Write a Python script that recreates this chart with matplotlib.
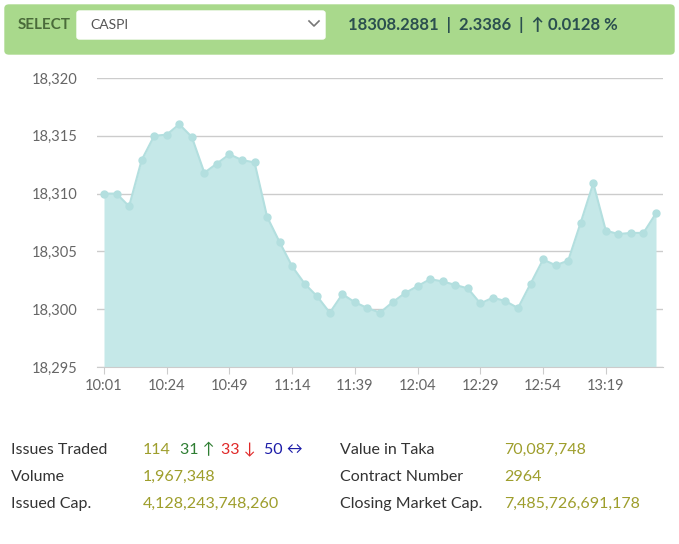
import matplotlib
matplotlib.use("Agg")
import matplotlib.pyplot as plt
from matplotlib.patches import FancyBboxPatch
from matplotlib.lines import Line2D

# index values, one point every few minutes
values = [
    18310.0, 18310.0, 18308.9, 18312.9, 18315.0, 18315.1, 18316.0, 18314.9,
    18311.8, 18312.6, 18313.4, 18312.9, 18312.7, 18308.0, 18305.8, 18303.7,
    18302.2, 18301.1, 18299.7, 18301.3, 18300.6, 18300.1, 18299.7, 18300.6,
    18301.4, 18302.0, 18302.6, 18302.4, 18302.1, 18301.8, 18300.5, 18301.0,
    18300.7, 18300.1, 18302.2, 18304.3, 18303.8, 18304.2, 18307.5, 18310.9,
    18306.8, 18306.5, 18306.6, 18306.6, 18308.3,
]
time_labels = ["10:01", "10:24", "10:49", "11:14", "11:39",
               "12:04", "12:29", "12:54", "13:19"]
label_step = 5
y_ticks = [18295, 18300, 18305, 18310, 18315, 18320]

index_name = "CASPI"
header_text = "18308.2881  |  2.3386  |  \u2191 0.0128 %"

left_labels = ["Issues Traded", "Volume", "Issued Cap."]
left_values = ["114", "1,967,348", "4,128,243,748,260"]
right_labels = ["Value in Taka", "Contract Number", "Closing Market Cap."]
right_values = ["70,087,748", "2964", "7,485,726,691,178"]
issues_extra = [("31 \u2191", "#2e7d32"), ("33 \u2193", "#e02828"), ("50 \u2194", "#1c1ca8")]

W, H = 679, 544
plt.rcParams["font.family"] = ["Lato", "DejaVu Sans"]
fig = plt.figure(figsize=(W / 100, H / 100), dpi=100)


def fx(x):
    return x / W


def fy(y):
    return 1 - y / H


# header bar
fig.patches.append(FancyBboxPatch((fx(5), fy(54)), fx(669), 49 / H,
                                  boxstyle="round,pad=0,rounding_size=0.006",
                                  transform=fig.transFigure, color="#a9d98c", zorder=0))
fig.patches.append(FancyBboxPatch((fx(77), fy(39)), fx(248), 28 / H,
                                  boxstyle="round,pad=0,rounding_size=0.004",
                                  transform=fig.transFigure, color="white", zorder=1))
fig.text(fx(18), fy(25), "SELECT", fontsize=11, color="#4a6b3a", va="center", weight="bold")
fig.text(fx(90), fy(25), index_name, fontsize=10, color="#555555", va="center")
fig.lines.append(Line2D([fx(309), fx(314), fx(319)], [fy(21), fy(26), fy(21)],
                        transform=fig.transFigure, color="#777777", lw=1.2))
fig.text(fx(348), fy(25), header_text, fontsize=12, color="#2b4f4f", va="center", weight="bold")

# chart
ax = fig.add_axes([fx(97), fy(367), (663 - 97) / W, (367 - 78) / H])
xs = list(range(len(values)))
ax.fill_between(xs, values, y_ticks[0], color="#c5e8e8", lw=0, zorder=2)
ax.plot(xs, values, color="#b3dfdf", lw=1.5, marker="o", markersize=5,
        markerfacecolor="#b3dfdf", markeredgecolor="#b3dfdf", zorder=3)

step = 552 / 44
ax.set_xlim(-7 / step, len(values) - 1 + 7 / step)
ax.set_ylim(y_ticks[0], y_ticks[-1])
ax.set_yticks(y_ticks)
ax.set_yticklabels([f"{v:,}" for v in y_ticks])
ax.set_xticks(xs[::label_step])
ax.set_xticklabels(time_labels)
ax.grid(axis="y", color="#cccccc", lw=1, zorder=1)
for s in ["top", "right", "left"]:
    ax.spines[s].set_visible(False)
ax.spines["bottom"].set_color("#cccccc")
ax.tick_params(axis="y", length=0, pad=14, labelsize=10.5, labelcolor="#666666")
ax.tick_params(axis="x", length=5, color="#cccccc", pad=4, labelsize=10.5, labelcolor="#666666")

# stats table
rows_y = [450, 477, 504]
for i, y in enumerate(rows_y):
    fig.text(fx(11), fy(y), left_labels[i], fontsize=11.5, color="#333333", va="center")
    fig.text(fx(143), fy(y), left_values[i], fontsize=11.5, color="#9e9e2c", va="center")
    fig.text(fx(340), fy(y), right_labels[i], fontsize=11.5, color="#333333", va="center")
    fig.text(fx(504), fy(y), right_values[i], fontsize=11.5, color="#9e9e2c", va="center")

for (txt, col), x in zip(issues_extra, [180, 221, 264]):
    fig.text(fx(x), fy(rows_y[0]), txt, fontsize=11.5, color=col, va="center")

fig.savefig("out.png", dpi=100)
